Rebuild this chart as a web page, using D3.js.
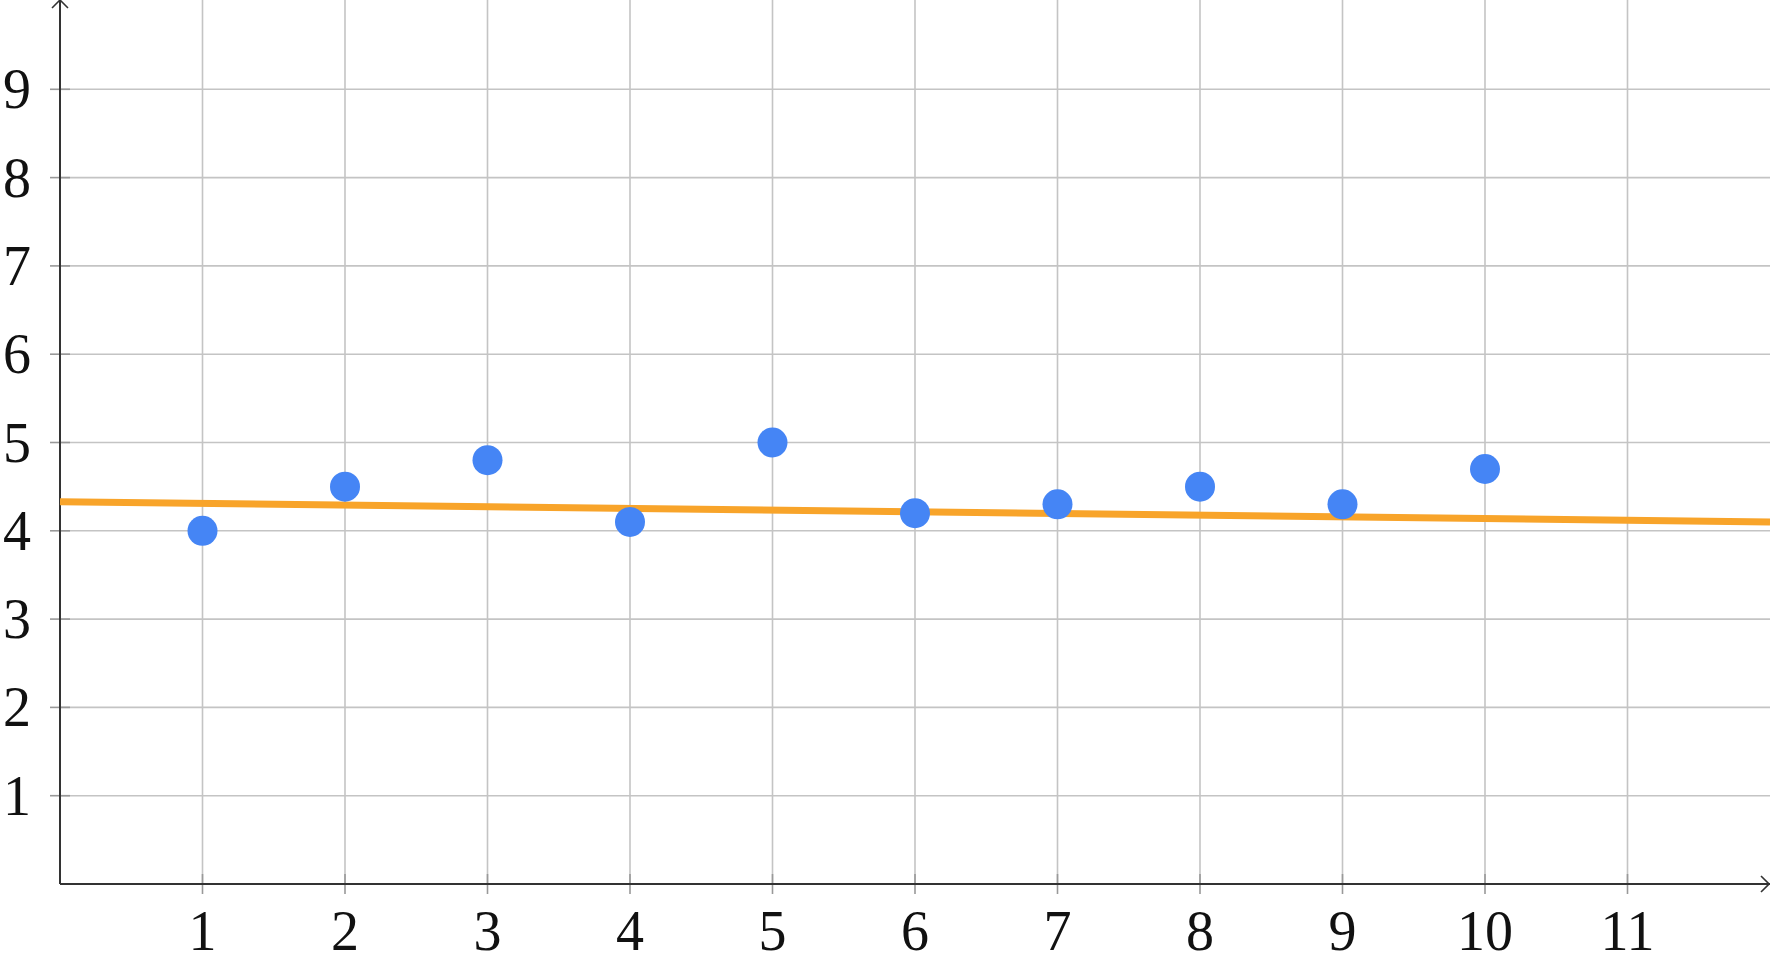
<!DOCTYPE html>
<html>
<head>
<meta charset="utf-8">
<script src="https://cdnjs.cloudflare.com/ajax/libs/d3/7.8.5/d3.min.js"></script>
<style>
  body { margin: 0; background: #fff; }
  svg { display: block; }
  .tick-label { font-family: "Liberation Serif", "DejaVu Serif", serif; font-size: 56px; fill: #111; }
</style>
</head>
<body>
<div id="chart"></div>
<script>
// data
var xValues = [1, 2, 3, 4, 5, 6, 7, 8, 9, 10];
var yValues = [4.0, 4.5, 4.8, 4.1, 5.0, 4.2, 4.3, 4.5, 4.3, 4.7];
var trendX = [0, 12];
var trendY = [4.33, 4.10];
var xTicks = [1, 2, 3, 4, 5, 6, 7, 8, 9, 10, 11];
var yTicks = [1, 2, 3, 4, 5, 6, 7, 8, 9];

var svgWidth = 1770;
var svgHeight = 962;
var margin = { top: 1, right: 0, bottom: 78, left: 60 };
var width = svgWidth - margin.left - margin.right;
var height = svgHeight - margin.top - margin.bottom;

var svg = d3.select("#chart")
  .append("svg")
  .attr("width", svgWidth)
  .attr("height", svgHeight);

var chartGroup = svg.append("g")
  .attr("transform", `translate(${margin.left}, ${margin.top})`);

var xScale = d3.scaleLinear().domain([0, 12]).range([0, width]);
var yScale = d3.scaleLinear().domain([0, 10]).range([height, 0]);

// grid
chartGroup.append("g")
  .selectAll("line")
  .data(xTicks)
  .enter()
  .append("line")
  .attr("x1", d => xScale(d)).attr("x2", d => xScale(d))
  .attr("y1", -margin.top).attr("y2", height)
  .attr("stroke", "#c4c4c4")
  .attr("stroke-width", 1.6);

chartGroup.append("g")
  .selectAll("line")
  .data(yTicks)
  .enter()
  .append("line")
  .attr("x1", 0).attr("x2", width)
  .attr("y1", d => yScale(d)).attr("y2", d => yScale(d))
  .attr("stroke", "#c4c4c4")
  .attr("stroke-width", 1.6);

// tick marks
chartGroup.append("g")
  .selectAll("line")
  .data(xTicks)
  .enter()
  .append("line")
  .attr("x1", d => xScale(d)).attr("x2", d => xScale(d))
  .attr("y1", height - 10).attr("y2", height + 10)
  .attr("stroke", "#999")
  .attr("stroke-width", 1.6);

chartGroup.append("g")
  .selectAll("line")
  .data(yTicks)
  .enter()
  .append("line")
  .attr("x1", -10).attr("x2", 10)
  .attr("y1", d => yScale(d)).attr("y2", d => yScale(d))
  .attr("stroke", "#999")
  .attr("stroke-width", 1.6);

// axes with arrows
chartGroup.append("line")
  .attr("x1", 0).attr("x2", 0)
  .attr("y1", height).attr("y2", -margin.top)
  .attr("stroke", "#333").attr("stroke-width", 2);
chartGroup.append("path")
  .attr("d", `M-8,${-margin.top + 8} L0,${-margin.top} L8,${-margin.top + 8}`)
  .attr("fill", "none").attr("stroke", "#333").attr("stroke-width", 1.6);

chartGroup.append("line")
  .attr("x1", 0).attr("x2", width)
  .attr("y1", height).attr("y2", height)
  .attr("stroke", "#333").attr("stroke-width", 2);
chartGroup.append("path")
  .attr("d", `M${width - 9},${height - 8} L${width - 1},${height} L${width - 9},${height + 8}`)
  .attr("fill", "none").attr("stroke", "#333").attr("stroke-width", 1.6);

// tick labels
chartGroup.append("g")
  .selectAll("text")
  .data(xTicks)
  .enter()
  .append("text")
  .attr("class", "tick-label")
  .attr("x", d => xScale(d))
  .attr("y", height + 66)
  .attr("text-anchor", "middle")
  .text(d => d);

chartGroup.append("g")
  .selectAll("text")
  .data(yTicks)
  .enter()
  .append("text")
  .attr("class", "tick-label")
  .attr("x", -29)
  .attr("y", d => yScale(d))
  .attr("dy", "0.34em")
  .attr("text-anchor", "end")
  .text(d => d);

// trend line
var trend = trendX.map((x, i) => [x, trendY[i]]);
chartGroup.append("path")
  .datum(trend)
  .attr("d", d3.line().x(d => xScale(d[0])).y(d => yScale(d[1])))
  .attr("fill", "none")
  .attr("stroke", "#f8a42a")
  .attr("stroke-width", 7);

// points
chartGroup.append("g")
  .selectAll("circle")
  .data(xValues)
  .enter()
  .append("circle")
  .attr("cx", d => xScale(d))
  .attr("cy", (d, i) => yScale(yValues[i]))
  .attr("r", 15)
  .attr("fill", "#4585f5");
</script>
</body>
</html>
